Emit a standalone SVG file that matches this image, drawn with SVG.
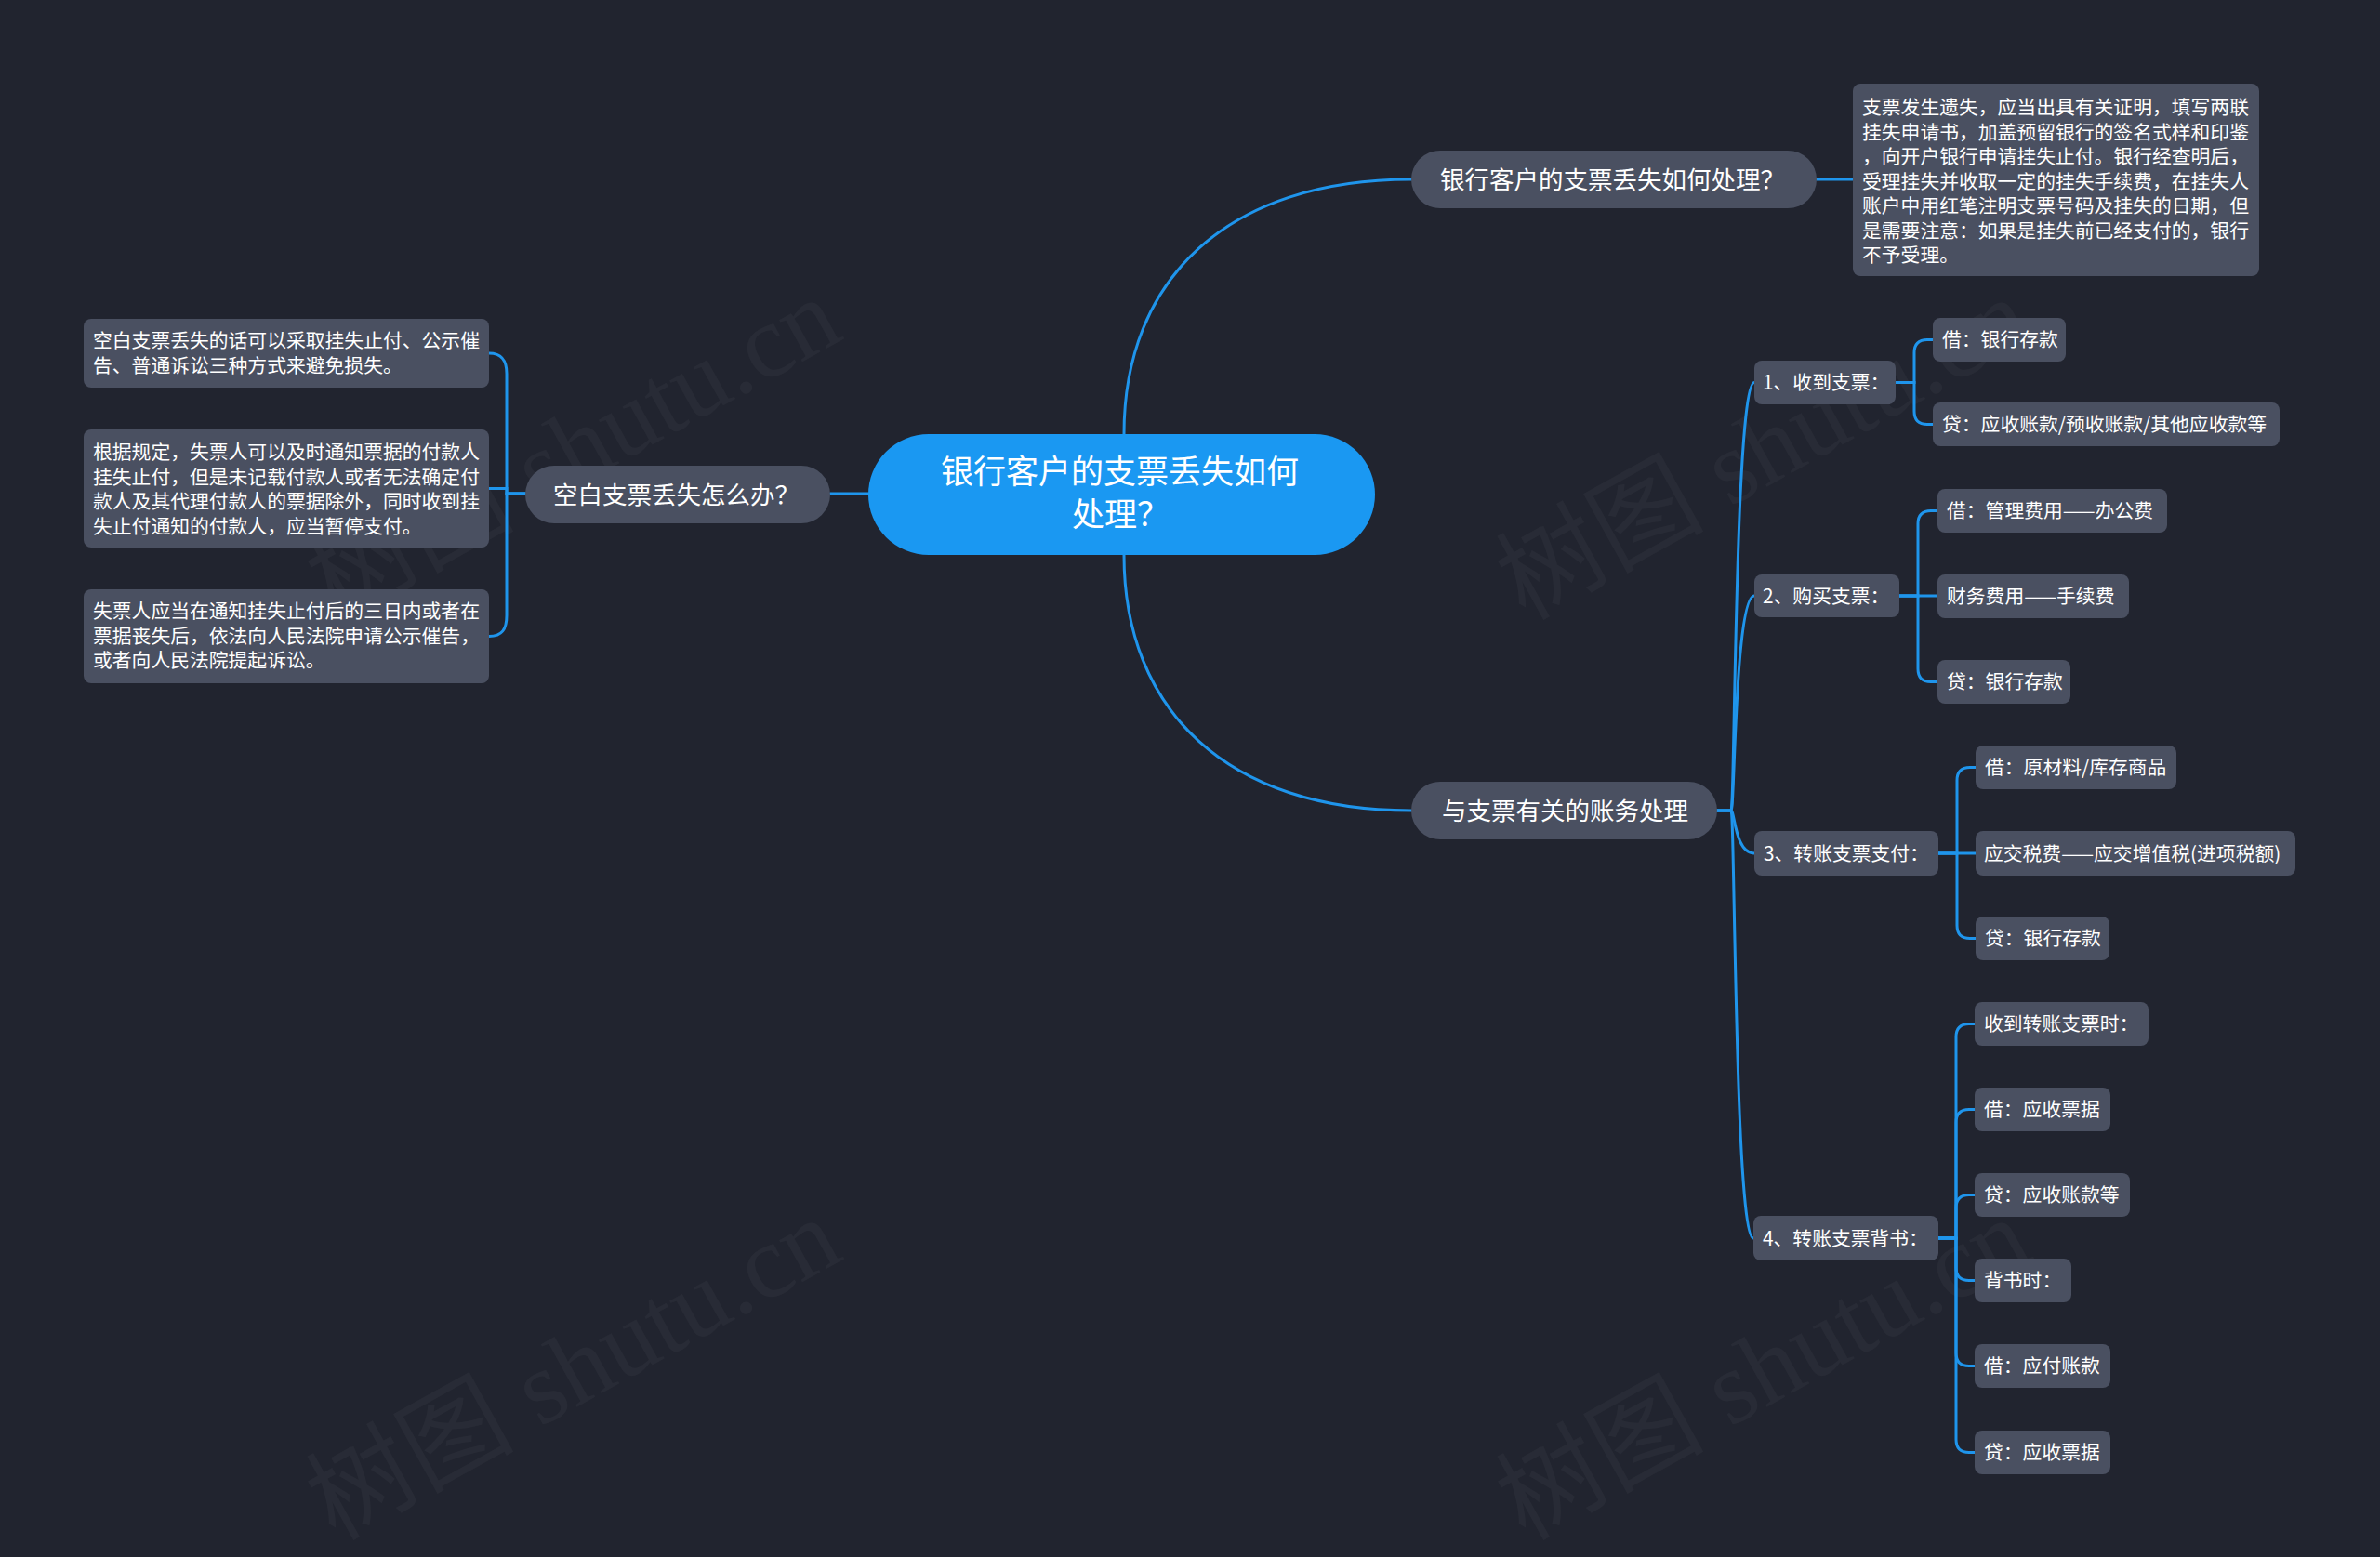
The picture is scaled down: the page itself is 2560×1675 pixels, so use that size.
<svg xmlns="http://www.w3.org/2000/svg" width="2560" height="1675" viewBox="0 0 2560 1675">
<style>
text{font-family:"Noto Sans CJK SC","Noto Sans",sans-serif;fill:#ffffff}
.wm{font-family:"Liberation Serif","Noto Sans CJK SC",serif;font-size:112px;fill:#ffffff;fill-opacity:0.035}
.node{fill:#4a5061}
.root{fill:#1a98f2}
.l1{font-size:26.5px}
.l2{font-size:20.8px}
.rt{font-size:35px}
.conn path{fill:none;stroke:#1f95ec;stroke-width:3;stroke-linecap:round}
</style>
<rect x="0" y="0" width="2560" height="1675" fill="#21242f"/>
<g id="watermarks">
<text class="wm" x="360" y="668" transform="rotate(-29 360 668)">树图 shutu.cn</text>
<text class="wm" x="1640" y="668" transform="rotate(-29 1640 668)">树图 shutu.cn</text>
<text class="wm" x="360" y="1658" transform="rotate(-29 360 1658)">树图 shutu.cn</text>
<text class="wm" x="1640" y="1658" transform="rotate(-29 1640 1658)">树图 shutu.cn</text>
</g>
<g id="connectors" class="conn">
<path d="M1209 467 C1209 300 1320 193 1518 193"/>
<path d="M1209 597 C1209 764 1320 872 1518 872"/>
<path d="M934 531 H893"/>
<path d="M1954 193 H1993"/>
<path d="M565 531 H545 V402 C545 388 540 380 526 380"/>
<path d="M565 531 H545 V525.5 H526"/>
<path d="M565 531 H545 V662 C545 677 540 684.5 526 684.5"/>
<path d="M1847 872 H1862 C1866 872 1866 411.5 1887 411.5"/>
<path d="M1847 872 H1862 C1866 872 1866 641 1887 641"/>
<path d="M1847 872 H1862 C1866 872 1866 918 1887 918"/>
<path d="M1847 872 H1862 C1866 872 1866 1332 1886 1332"/>
<path d="M2039 411.5 H2059 V379.5 Q2059 365.5 2073 365.5 H2079"/>
<path d="M2039 411.5 H2059 V442.5 Q2059 456.5 2073 456.5 H2079"/>
<path d="M2043 641 H2063 V563.5 Q2063 549.5 2077 549.5 H2084"/>
<path d="M2043 641 H2084"/>
<path d="M2043 641 H2063 V719.5 Q2063 733.5 2077 733.5 H2084"/>
<path d="M2085 918 H2105 V839.5 Q2105 825.5 2119 825.5 H2125"/>
<path d="M2085 918 H2125"/>
<path d="M2085 918 H2105 V995.5 Q2105 1009.5 2119 1009.5 H2125"/>
<path d="M2085 1332 H2104 V1115.5 Q2104 1101.5 2118 1101.5 H2124"/>
<path d="M2085 1332 H2104 V1207.5 Q2104 1193.5 2118 1193.5 H2124"/>
<path d="M2085 1332 H2104 V1299.5 Q2104 1285.5 2118 1285.5 H2124"/>
<path d="M2085 1332 H2104 V1363.5 Q2104 1377.5 2118 1377.5 H2124"/>
<path d="M2085 1332 H2104 V1455.5 Q2104 1469.5 2118 1469.5 H2124"/>
<path d="M2085 1332 H2104 V1548.5 Q2104 1562.5 2118 1562.5 H2124"/>
</g>
<g id="root">
<rect class="root" x="934" y="467" width="545" height="130" rx="65"/>
<text class="rt" x="1012" y="520">银行客户的支票丢失如何</text>
<text class="rt" x="1153" y="566">处理？</text>
</g>
<g id="b1">
<rect class="node" x="1518" y="162" width="436" height="62" rx="31"/>
<text class="l1" x="1549" y="203">银行客户的支票丢失如何处理？</text>
</g>
<g id="b1-desc">
<rect class="node" x="1993" y="90" width="437" height="207" rx="8"/>
<text class="l2" x="2003" y="123">支票发生遗失，应当出具有关证明，填写两联</text>
<text class="l2" x="2003" y="149.5">挂失申请书，加盖预留银行的签名式样和印鉴</text>
<text class="l2" x="2003" y="176">，向开户银行申请挂失止付。银行经查明后，</text>
<text class="l2" x="2003" y="202.5">受理挂失并收取一定的挂失手续费，在挂失人</text>
<text class="l2" x="2003" y="229">账户中用红笔注明支票号码及挂失的日期，但</text>
<text class="l2" x="2003" y="255.5">是需要注意：如果是挂失前已经支付的，银行</text>
<text class="l2" x="2003" y="282">不予受理。</text>
</g>
<g id="left">
<rect class="node" x="565" y="501" width="328" height="62" rx="31"/>
<text class="l1" x="595" y="542">空白支票丢失怎么办？</text>
</g>
<g id="left-d1">
<rect class="node" x="90" y="343" width="436" height="74" rx="8"/>
<text class="l2" x="100" y="374">空白支票丢失的话可以采取挂失止付、公示催</text>
<text class="l2" x="100" y="400.5">告、普通诉讼三种方式来避免损失。</text>
</g>
<g id="left-d2">
<rect class="node" x="90" y="462" width="436" height="127" rx="8"/>
<text class="l2" x="100" y="494">根据规定，失票人可以及时通知票据的付款人</text>
<text class="l2" x="100" y="520.5">挂失止付，但是未记载付款人或者无法确定付</text>
<text class="l2" x="100" y="547">款人及其代理付款人的票据除外，同时收到挂</text>
<text class="l2" x="100" y="573.5">失止付通知的付款人，应当暂停支付。</text>
</g>
<g id="left-d3">
<rect class="node" x="90" y="634" width="436" height="101" rx="8"/>
<text class="l2" x="100" y="665">失票人应当在通知挂失止付后的三日内或者在</text>
<text class="l2" x="100" y="691.5">票据丧失后，依法向人民法院申请公示催告，</text>
<text class="l2" x="100" y="718">或者向人民法院提起诉讼。</text>
</g>
<g id="b2">
<rect class="node" x="1518" y="841" width="329" height="62" rx="31"/>
<text class="l1" x="1551" y="882">与支票有关的账务处理</text>
</g>
<g id="g1">
<rect class="node" x="1887" y="388" width="152" height="47" rx="8"/>
<text class="l2" x="1896" y="419">1、收到支票：</text>
</g>
<g id="g1c1">
<rect class="node" x="2079" y="342" width="143" height="47" rx="8"/>
<text class="l2" x="2089" y="373">借：银行存款</text>
</g>
<g id="g1c2">
<rect class="node" x="2079" y="433" width="373" height="47" rx="8"/>
<text class="l2" x="2089" y="464">贷：应收账款/预收账款/其他应收款等</text>
</g>
<g id="g2">
<rect class="node" x="1887" y="618" width="156" height="46" rx="8"/>
<text class="l2" x="1896" y="648.5">2、购买支票：</text>
</g>
<g id="g2c1">
<rect class="node" x="2084" y="526" width="247" height="47" rx="8"/>
<text class="l2" x="2094" y="557">借：管理费用——办公费</text>
</g>
<g id="g2c2">
<rect class="node" x="2084" y="618" width="206" height="47" rx="8"/>
<text class="l2" x="2094" y="649">财务费用——手续费</text>
</g>
<g id="g2c3">
<rect class="node" x="2084" y="710" width="143" height="47" rx="8"/>
<text class="l2" x="2094" y="741">贷：银行存款</text>
</g>
<g id="g3">
<rect class="node" x="1887" y="894" width="198" height="48" rx="8"/>
<text class="l2" x="1897" y="925.5">3、转账支票支付：</text>
</g>
<g id="g3c1">
<rect class="node" x="2125" y="802" width="216" height="47" rx="8"/>
<text class="l2" x="2135" y="833">借：原材料/库存商品</text>
</g>
<g id="g3c2">
<rect class="node" x="2125" y="894" width="344" height="48" rx="8"/>
<text class="l2" x="2134" y="925.5">应交税费——应交增值税(进项税额)</text>
</g>
<g id="g3c3">
<rect class="node" x="2125" y="986" width="144" height="47" rx="8"/>
<text class="l2" x="2135" y="1017">贷：银行存款</text>
</g>
<g id="g4">
<rect class="node" x="1886" y="1308" width="199" height="48" rx="8"/>
<text class="l2" x="1896" y="1339.5">4、转账支票背书：</text>
</g>
<g id="g4c1">
<rect class="node" x="2124" y="1078" width="187" height="47" rx="8"/>
<text class="l2" x="2134" y="1109">收到转账支票时：</text>
</g>
<g id="g4c2">
<rect class="node" x="2124" y="1170" width="146" height="47" rx="8"/>
<text class="l2" x="2134" y="1201">借：应收票据</text>
</g>
<g id="g4c3">
<rect class="node" x="2124" y="1262" width="167" height="47" rx="8"/>
<text class="l2" x="2134" y="1293">贷：应收账款等</text>
</g>
<g id="g4c4">
<rect class="node" x="2124" y="1354" width="104" height="47" rx="8"/>
<text class="l2" x="2134" y="1385">背书时：</text>
</g>
<g id="g4c5">
<rect class="node" x="2124" y="1446" width="146" height="47" rx="8"/>
<text class="l2" x="2134" y="1477">借：应付账款</text>
</g>
<g id="g4c6">
<rect class="node" x="2124" y="1539" width="146" height="47" rx="8"/>
<text class="l2" x="2134" y="1570">贷：应收票据</text>
</g>
</svg>
